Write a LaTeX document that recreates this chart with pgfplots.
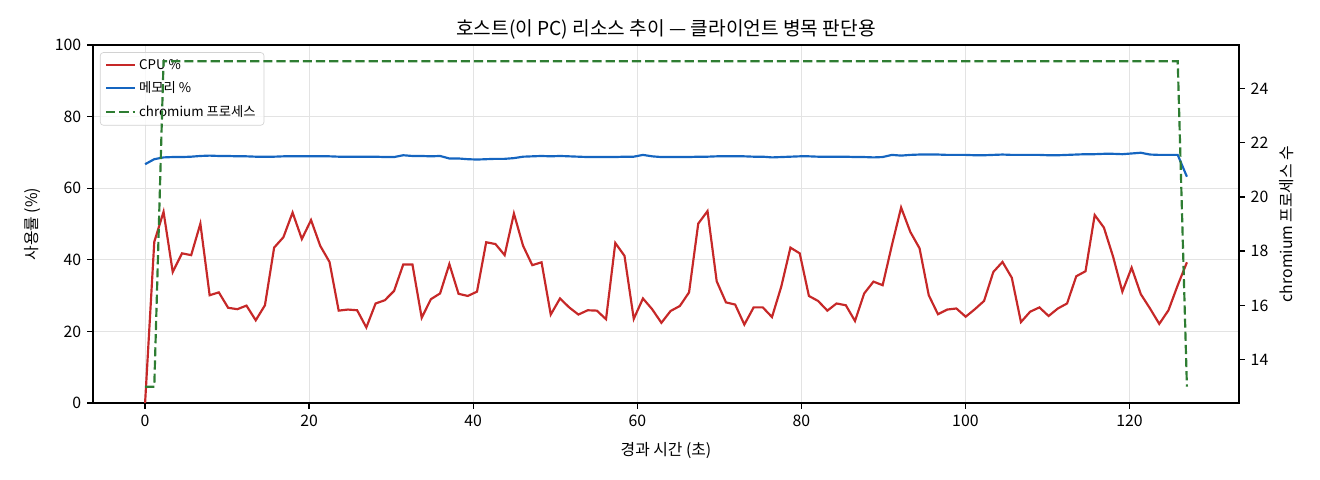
\documentclass[border=0pt]{standalone}
\usepackage{fontspec}
\setmainfont{Noto Sans CJK KR}
\usepackage{pgfplots}
\usepackage{pgfplotstable}
\pgfplotsset{compat=1.18}

\definecolor{cpured}{HTML}{C62828}
\definecolor{memblue}{HTML}{1565C0}
\definecolor{procgreen}{HTML}{2E7D32}

% t (s), CPU %, memory %, chromium process count
\pgfplotstableread{
t cpu mem proc
0.00 0.0 66.7 13
1.12 45.0 68.1 13
2.25 53.4 68.6 25
3.37 36.6 68.7 25
4.50 41.8 68.7 25
5.62 41.3 68.8 25
6.74 50.1 69.0 25
7.87 30.1 69.1 25
8.99 30.9 69.0 25
10.12 26.6 69.0 25
11.24 26.2 68.9 25
12.36 27.2 68.9 25
13.49 23.1 68.8 25
14.61 27.3 68.8 25
15.73 43.4 68.8 25
16.86 46.3 68.9 25
17.98 53.2 68.9 25
19.11 45.8 68.9 25
20.23 51.1 68.9 25
21.35 43.9 68.9 25
22.48 39.4 68.9 25
23.60 25.8 68.8 25
24.73 26.1 68.8 25
25.85 25.9 68.8 25
26.97 21.1 68.8 25
28.10 27.8 68.8 25
29.22 28.7 68.7 25
30.35 31.3 68.7 25
31.47 38.7 69.2 25
32.59 38.7 69.0 25
33.72 23.8 69.0 25
34.84 29.0 68.9 25
35.96 30.6 69.0 25
37.09 38.8 68.3 25
38.21 30.5 68.3 25
39.34 29.9 68.1 25
40.46 31.1 68.0 25
41.58 44.9 68.1 25
42.71 44.4 68.2 25
43.83 41.3 68.2 25
44.96 52.9 68.4 25
46.08 43.9 68.8 25
47.20 38.5 68.9 25
48.33 39.3 69.0 25
49.45 24.7 68.9 25
50.58 29.2 69.0 25
51.70 26.7 68.9 25
52.82 24.7 68.8 25
53.95 25.9 68.7 25
55.07 25.8 68.7 25
56.19 23.4 68.7 25
57.32 44.7 68.7 25
58.44 41.1 68.8 25
59.57 23.5 68.8 25
60.69 29.2 69.3 25
61.81 26.2 68.9 25
62.94 22.4 68.7 25
64.06 25.7 68.7 25
65.19 27.1 68.7 25
66.31 30.9 68.7 25
67.43 50.1 68.8 25
68.56 53.6 68.8 25
69.68 34.0 68.9 25
70.81 28.1 68.9 25
71.93 27.5 68.9 25
73.05 21.9 68.9 25
74.18 26.7 68.8 25
75.30 26.7 68.8 25
76.42 24.0 68.6 25
77.55 32.5 68.7 25
78.67 43.4 68.8 25
79.80 41.8 68.9 25
80.92 29.9 68.9 25
82.04 28.5 68.8 25
83.17 25.8 68.8 25
84.29 27.8 68.8 25
85.42 27.3 68.8 25
86.54 22.9 68.7 25
87.66 30.6 68.7 25
88.79 33.9 68.6 25
89.91 32.9 68.7 25
91.04 44.1 69.3 25
92.16 54.6 69.1 25
93.28 47.8 69.3 25
94.41 43.2 69.4 25
95.53 30.1 69.4 25
96.65 24.8 69.4 25
97.78 26.1 69.3 25
98.90 26.4 69.3 25
100.03 24.1 69.3 25
101.15 26.2 69.2 25
102.27 28.5 69.2 25
103.40 36.6 69.3 25
104.52 39.4 69.4 25
105.65 35.0 69.3 25
106.77 22.6 69.3 25
107.89 25.5 69.3 25
109.02 26.7 69.3 25
110.14 24.3 69.2 25
111.27 26.4 69.2 25
112.39 27.8 69.3 25
113.51 35.4 69.4 25
114.64 36.8 69.5 25
115.76 52.5 69.5 25
116.88 49.0 69.6 25
118.01 40.8 69.6 25
119.13 31.1 69.5 25
120.26 37.8 69.7 25
121.38 30.4 69.9 25
122.50 26.4 69.4 25
123.63 22.1 69.3 25
124.75 25.9 69.3 25
125.88 32.9 69.3 25
127.00 39.3 63.2 13
}\hoststats

\begin{document}
\begin{tikzpicture}
\useasboundingbox (-55.8pt,-46.2pt) rectangle (736.2pt,241.8pt);
\begin{axis}[
  at={(0pt,0pt)}, anchor=south west,
  scale only axis, width=687.6pt, height=214.8pt,
  xmin=-6.35, xmax=133.35, ymin=0, ymax=100,
  xtick={0,20,...,120}, ytick={0,20,...,100},
  xtick pos=bottom, ytick pos=left, tick align=outside,
  major tick length=3.5pt,
  grid=major, grid style={gray!22, line width=0.6pt},
  axis line style={line width=0.8pt},
  tick style={black, line width=0.8pt},
  ticklabel style={font=\fontsize{9.5}{12}\selectfont},
  /pgf/number format/assume math mode=true,
  title={호스트(이 PC) 리소스 추이 — 클라이언트 병목 판단용},
  title style={font=\fontsize{11.5}{14}\selectfont, yshift=-6pt},
  xlabel={경과 시간 (초)}, ylabel={사용률 (\%)},
  label style={font=\fontsize{9.5}{12}\selectfont},
  xlabel style={yshift=-3pt},
  ylabel style={yshift=2pt},
  legend style={at={(0.006,0.98)}, anchor=north west, draw=gray!35,
    rounded corners=2pt, fill=white, fill opacity=0.8, text opacity=1,
    font=\fontsize{8}{10}\selectfont, row sep=2pt},
  legend cell align=left,
  no markers,
]
\addplot[cpured, line width=1.3pt] table[x=t, y=cpu]{\hoststats};
\addlegendentry{CPU \%}
\addplot[memblue, line width=1.3pt] table[x=t, y=mem]{\hoststats};
\addlegendentry{메모리 \%}
\addlegendimage{procgreen, line width=1.3pt, dash pattern=on 5.5pt off 2.4pt}
\addlegendentry{chromium 프로세스}
\end{axis}
\begin{axis}[
  at={(0pt,0pt)}, anchor=south west,
  scale only axis, width=687.6pt, height=214.8pt,
  xmin=-6.35, xmax=133.35, ymin=12.4, ymax=25.6,
  hide x axis, axis y line*=right,
  ytick={14,16,...,24}, tick align=outside,
  major tick length=3.5pt,
  axis line style={line width=0.8pt, -},
  tick style={black, line width=0.8pt},
  ticklabel style={font=\fontsize{9.5}{12}\selectfont},
  /pgf/number format/assume math mode=true,
  ylabel={chromium 프로세스 수},
  label style={font=\fontsize{9.5}{12}\selectfont},
  no markers,
]
\addplot[procgreen, line width=1.3pt, dash pattern=on 5.5pt off 2.4pt] table[x=t, y=proc]{\hoststats};
\end{axis}
\end{tikzpicture}
\end{document}
